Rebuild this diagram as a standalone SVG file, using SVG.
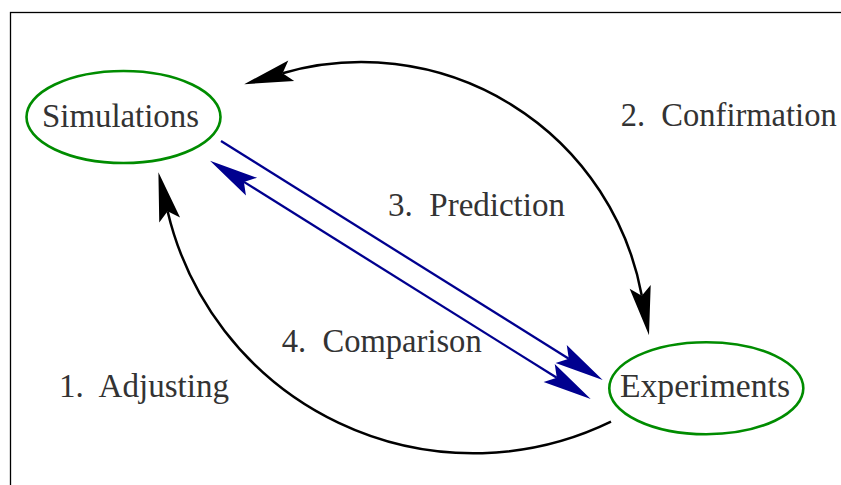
<svg xmlns="http://www.w3.org/2000/svg" width="841" height="485" viewBox="0 0 841 485">
<style>
.node{fill:none;stroke:#008c00;stroke-width:2.6}
.lbl{font-family:"Liberation Serif","Times New Roman",serif;font-size:33px;fill:#333333}
.blk{fill:none;stroke:#000000;stroke-width:2.5}
.blu{fill:none;stroke:#00008f;stroke-width:2.3}
</style>
<defs>
<marker id="ahk" markerUnits="userSpaceOnUse" orient="auto-start-reverse" refX="0" refY="0" markerWidth="60" markerHeight="30" overflow="visible">
<path d="M40,0 L-9,-10.7 L0,0 L-9,10.7 Z" fill="#000000"/>
</marker>
<marker id="ahb" markerUnits="userSpaceOnUse" orient="auto-start-reverse" refX="0" refY="0" markerWidth="60" markerHeight="30" overflow="visible">
<path d="M40,0 L-9,-10.5 L0,0 L-9,10.5 Z" fill="#00008f"/>
</marker>
</defs>
<rect x="10.5" y="12.5" width="900" height="600" fill="none" stroke="#000" stroke-width="1.3"/>
<g id="connectors">
<path id="e-confirm" class="blk" d="M282.6,73.2 A285,285 0 0 1 641.8,295.8" marker-start="url(#ahk)" marker-end="url(#ahk)"/>
<path id="e-adjust" class="blk" d="M611,421.7 A314.4,314.4 0 0 1 167.6,211.2" marker-end="url(#ahk)"/>
<path id="e-predict" class="blu" d="M221,141 L568.8,358.8" marker-end="url(#ahb)"/>
<path id="e-compare" class="blu" d="M243.9,181.9 L556.8,377.8" marker-start="url(#ahb)" marker-end="url(#ahb)"/>
</g>
<g id="simulations">
<ellipse class="node" cx="123.5" cy="117" rx="97" ry="46"/>
<text class="lbl" x="42" y="127" textLength="157" lengthAdjust="spacingAndGlyphs">Simulations</text>
</g>
<g id="experiments">
<ellipse class="node" cx="706.3" cy="388.2" rx="97" ry="46"/>
<text class="lbl" x="620" y="397" textLength="170" lengthAdjust="spacingAndGlyphs">Experiments</text>
</g>
<g id="labels">
<text class="lbl" xml:space="preserve" x="620.7" y="126" textLength="216" lengthAdjust="spacingAndGlyphs">2.  Confirmation</text>
<text class="lbl" xml:space="preserve" x="59" y="397" textLength="170" lengthAdjust="spacingAndGlyphs">1.  Adjusting</text>
<text class="lbl" xml:space="preserve" x="388" y="216" textLength="177" lengthAdjust="spacingAndGlyphs">3.  Prediction</text>
<text class="lbl" xml:space="preserve" x="281.7" y="352" textLength="200" lengthAdjust="spacingAndGlyphs">4.  Comparison</text>
</g>
</svg>
